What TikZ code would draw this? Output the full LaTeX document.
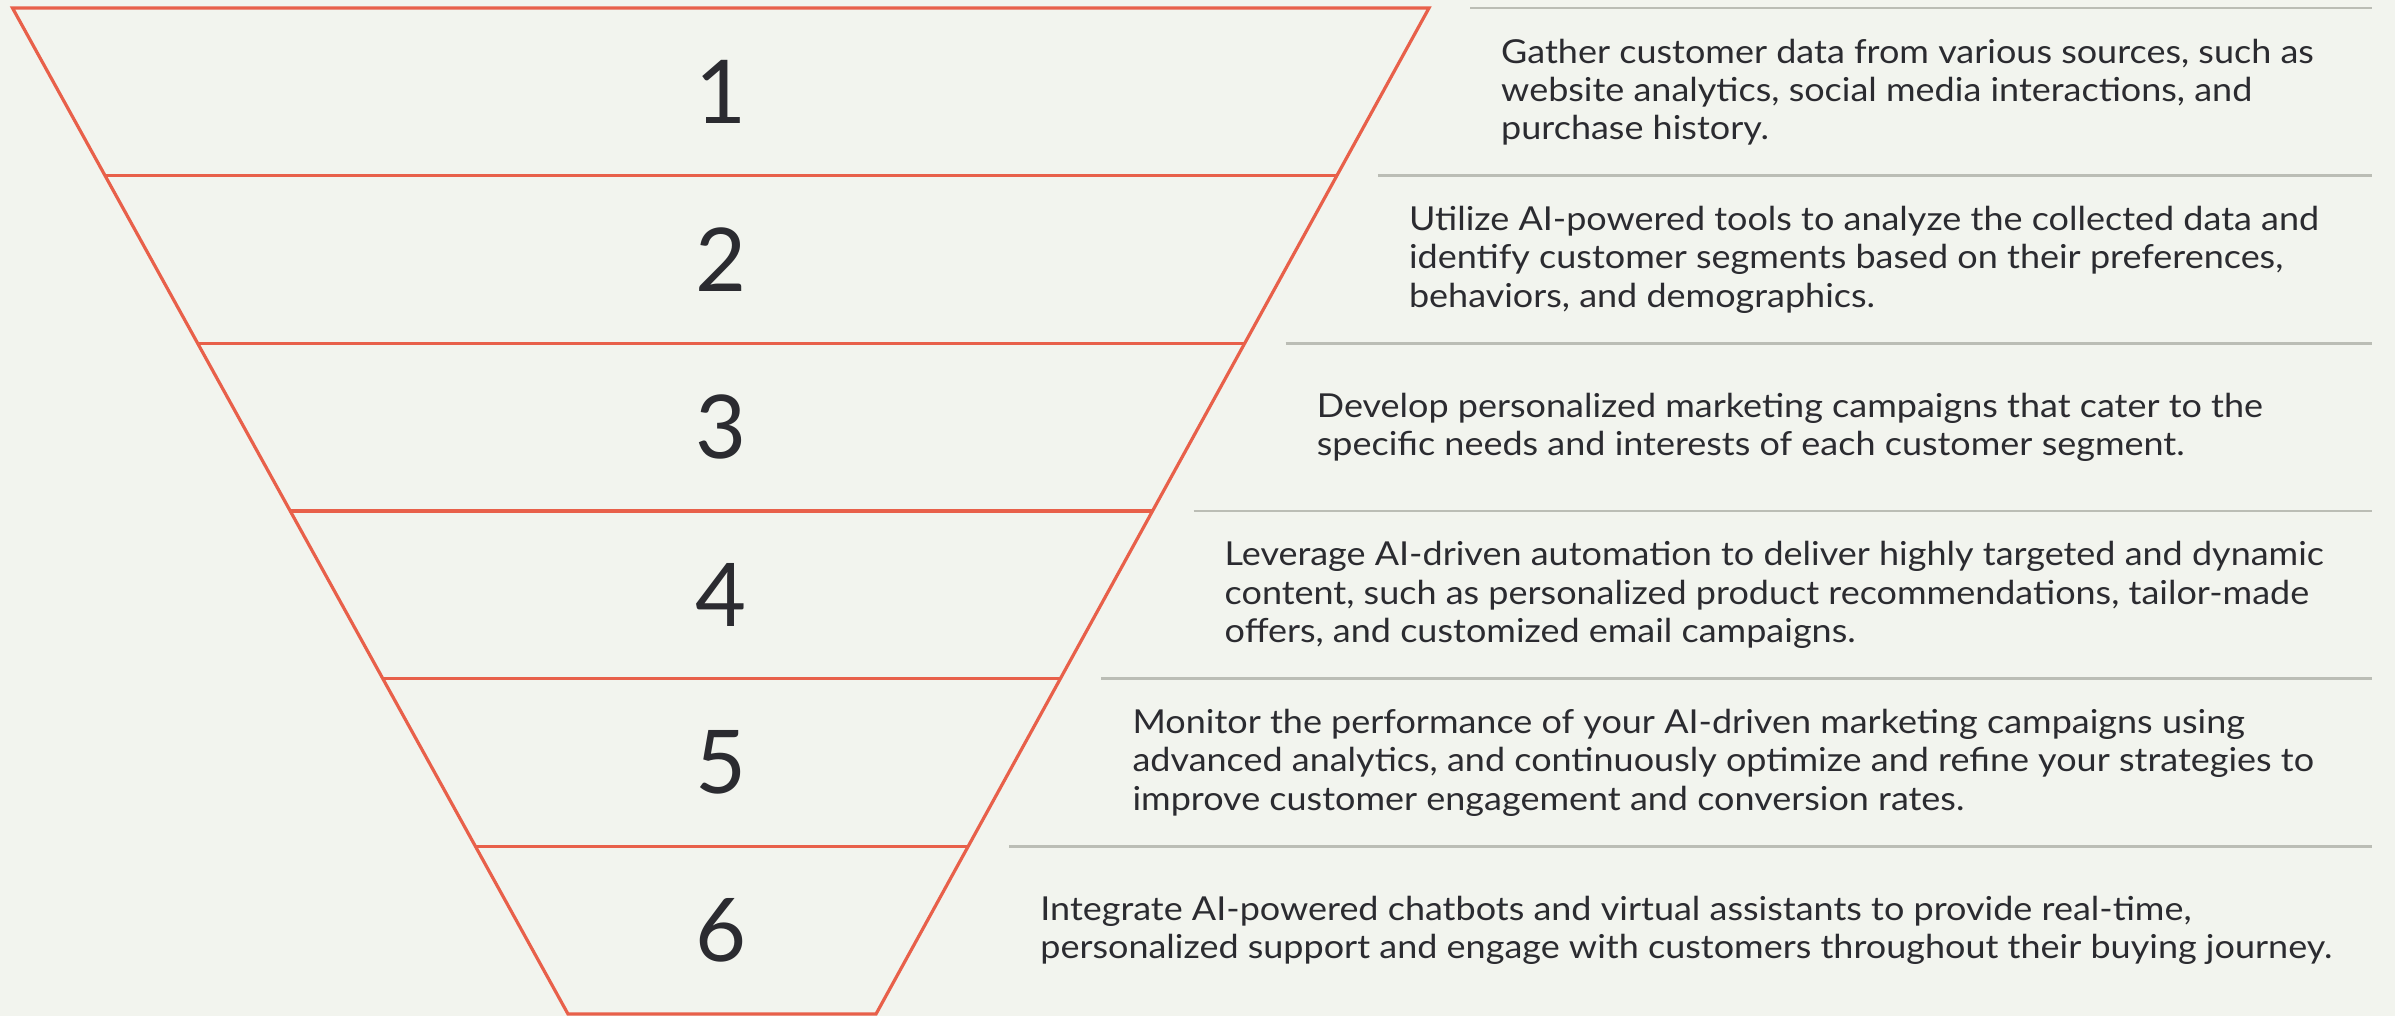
\documentclass[tikz,border=0pt]{standalone}
\usepackage{fontspec}
\setmainfont{Lato}[FakeStretch=1.09]
\newfontfamily\numfont{Lato}
\definecolor{bg}{HTML}{F2F4EE}
\definecolor{fred}{HTML}{E8604A}
\definecolor{fgray}{HTML}{BBBDB5}
\definecolor{ftext}{HTML}{2B2B30}
\begin{document}
\begin{tikzpicture}[x=1pt,y=-1pt,
  funnel/.style={draw=fred,line width=3.2pt,line join=miter},
  sepline/.style={draw=fgray,line width=2.5pt},
  num/.style={text=ftext,font=\numfont\fontsize{88}{100}\selectfont,inner sep=0pt},
  desc/.style={text=ftext,font=\fontsize{33}{38.3}\selectfont,align=left,anchor=west,inner sep=0pt}]
\fill[bg] (0,0) rectangle (2395,1016);
\useasboundingbox (0,0) rectangle (2395,1016);
\foreach \i in {0,...,6}{
  \coordinate (L\i) at ({12.5+555.5*\i/6},{8+167.67*\i});
  \coordinate (R\i) at ({1429-553*\i/6},{8+167.67*\i});
}
\foreach \i in {0,...,5}{
  \coordinate (G\i) at ({1470-553*\i/6},{8+167.67*\i});
  \coordinate (E\i) at (2372,{8+167.67*\i});
  \draw[sepline] (G\i) -- (E\i);
}
\draw[funnel] (L0) -- (R0) -- (R6) -- (L6) -- cycle;
\foreach \i in {1,...,5}{\draw[funnel] (L\i) -- (R\i);}
\foreach \i in {1,...,6}{
  \node[num] (n\i) at (721,{8+167.67*(\i-1)+84}) {\i};
}
\node[desc] (t1) at ({1501-553*0/6},{8+167.67*0+84}) {Gather customer data from various sources, such as\\website analytics, social media interactions, and\\purchase history.};
\node[desc] (t2) at ({1501-553*1/6},{8+167.67*1+84}) {Utilize AI-powered tools to analyze the collected data and\\identify customer segments based on their preferences,\\behaviors, and demographics.};
\node[desc] (t3) at ({1501-553*2/6},{8+167.67*2+84}) {Develop personalized marketing campaigns that cater to the\\specific needs and interests of each customer segment.};
\node[desc] (t4) at ({1501-553*3/6},{8+167.67*3+84}) {Leverage AI-driven automation to deliver highly targeted and dynamic\\content, such as personalized product recommendations, tailor-made\\offers, and customized email campaigns.};
\node[desc] (t5) at ({1501-553*4/6},{8+167.67*4+84}) {Monitor the performance of your AI-driven marketing campaigns using\\advanced analytics, and continuously optimize and refine your strategies to\\improve customer engagement and conversion rates.};
\node[desc] (t6) at ({1501-553*5/6},{8+167.67*5+84}) {Integrate AI-powered chatbots and virtual assistants to provide real-time,\\personalized support and engage with customers throughout their buying journey.};
\end{tikzpicture}
\end{document}
